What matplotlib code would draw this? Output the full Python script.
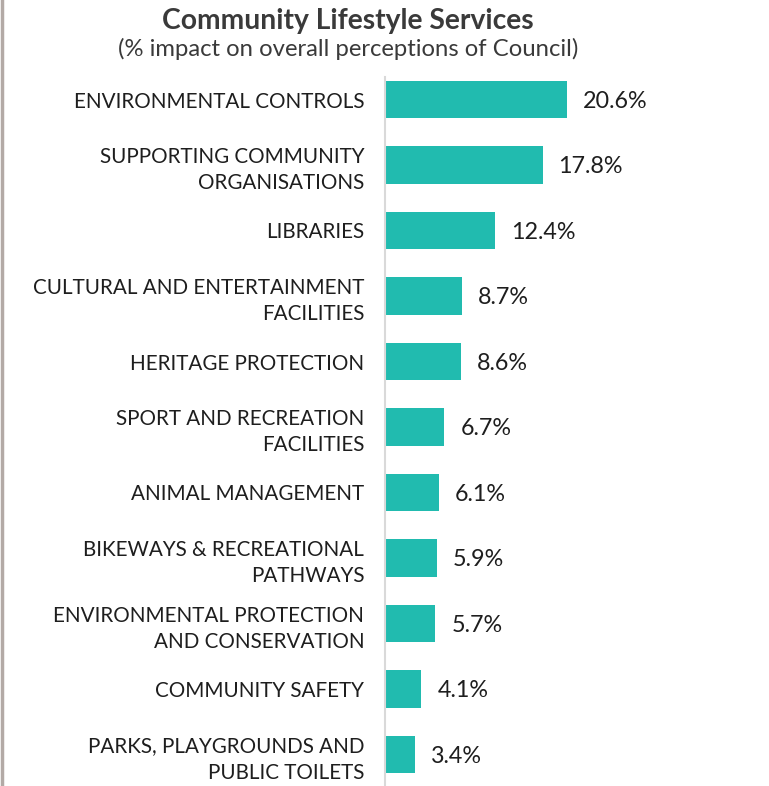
import matplotlib
matplotlib.use('Agg')
import matplotlib.pyplot as plt

# impact of each service on overall perceptions (%)
services = ['ENVIRONMENTAL CONTROLS',
            'SUPPORTING COMMUNITY\nORGANISATIONS',
            'LIBRARIES',
            'CULTURAL AND ENTERTAINMENT\nFACILITIES',
            'HERITAGE PROTECTION',
            'SPORT AND RECREATION\nFACILITIES',
            'ANIMAL MANAGEMENT',
            'BIKEWAYS & RECREATIONAL\nPATHWAYS',
            'ENVIRONMENTAL PROTECTION\nAND CONSERVATION',
            'COMMUNITY SAFETY',
            'PARKS, PLAYGROUNDS AND\nPUBLIC TOILETS']
impact = [20.6, 17.8, 12.4, 8.7, 8.6, 6.7, 6.1, 5.9, 5.7, 4.1, 3.4]

W, H = 769, 786
bar_col = '#21bbaf'
txt_col = '#1e1e1e'
font = 'Lato'

fig = plt.figure(figsize=(W/100, H/100), dpi=100)

# axes placed in pixel terms: y=0 at 99.5px, 65.5px per row
top_px, bot_px = 66.75, 786
left_px, px_per_unit = 385, 8.85
xmax = 30
ax = fig.add_axes([left_px/W, 1 - bot_px/H, xmax*px_per_unit/W, (bot_px-top_px)/H])

ypos = list(range(len(services)))
ax.barh(ypos, impact, height=0.57, color=bar_col)
ax.set_xlim(0, xmax)
ax.set_ylim((bot_px - 99.5)/65.5, -0.5)

for y, v in zip(ypos, impact):
    ax.text(v + 16/px_per_unit, y + 0.03, '%.1f%%' % v, va='center', ha='left',
            fontsize=16.8, color=txt_col, family=font)

ax.set_yticks(ypos)
ax.set_yticklabels(services, fontsize=14.9, color=txt_col, family=font,
                   linespacing=1.38)
ax.tick_params(axis='y', length=0, pad=15)
ax.set_xticks([])
for s in ['top', 'right', 'bottom']:
    ax.spines[s].set_visible(False)
ax.spines['left'].set_color('#d9d9d9')
ax.spines['left'].set_linewidth(1.5)
ax.spines['left'].set_bounds(ax.get_ylim()[0], (77 - 99.5)/65.5)

fig.text(348/W, 1 - 21/H, 'Community Lifestyle Services', ha='center', va='center',
         fontsize=20.3, fontweight='bold', color='#3a3a3a', family=font)
fig.text(348/W, 1 - 49/H, '(% impact on overall perceptions of Council)',
         ha='center', va='center', fontsize=17.2, color='#3a3a3a', family=font)

# thin frame line along the left edge
fig.add_artist(plt.Line2D([1.5/W, 1.5/W], [0, 1], color='#b3aaa6', lw=2.5))

fig.savefig('out.png', dpi=100)
